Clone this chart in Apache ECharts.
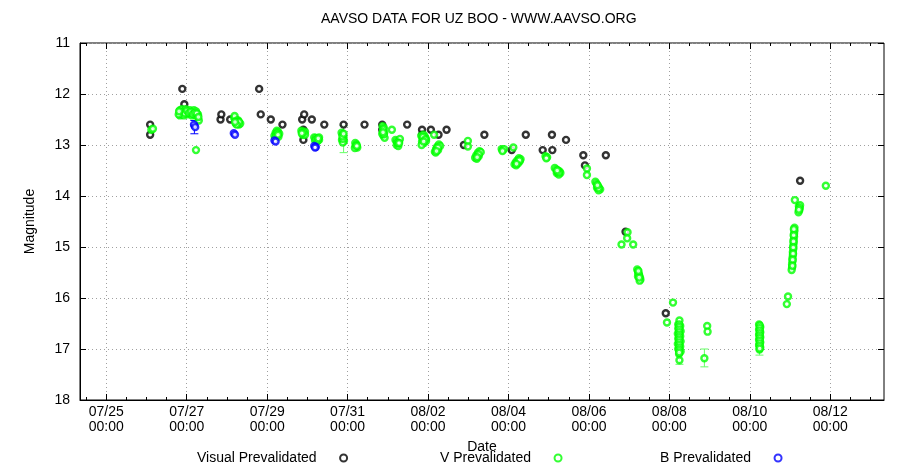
<!DOCTYPE html>
<html><head><meta charset="utf-8">
<script src="https://cdn.jsdelivr.net/npm/echarts@6/dist/echarts.min.js"></script>
<style>html,body{margin:0;padding:0;background:#fff}#c{width:900px;height:473px}</style>
</head><body><div id="c"></div>
<script>
// x values: days since 07/25 00:00
const xTickValues = [0, 2, 4, 6, 8, 10, 12, 14, 16, 18];
const xTickLabels = ['07/25\n00:00','07/27\n00:00','07/29\n00:00','07/31\n00:00','08/02\n00:00','08/04\n00:00','08/06\n00:00','08/08\n00:00','08/10\n00:00','08/12\n00:00'];

const visualX = [1.09,1.09,1.89,1.94,2.84,2.86,3.08,3.80,3.84,4.09,4.38,4.87,4.92,4.90,4.90,5.11,5.42,5.90,6.42,6.86,6.86,7.48,7.85,7.85,8.07,8.26,8.46,8.89,9.40,10.08,10.43,10.85,11.08,11.09,11.43,11.86,11.90,12.42,12.91,13.91,17.25];
const visualY = [12.6,12.8,11.9,12.2,12.5,12.4,12.5,11.9,12.4,12.5,12.6,12.5,12.4,12.7,12.9,12.5,12.6,12.6,12.6,12.6,12.7,12.6,12.7,12.8,12.7,12.8,12.7,13.0,12.8,13.1,12.8,13.1,12.8,13.1,12.9,13.2,13.4,13.2,14.7,16.3,13.7];

const vX = [1.12,1.16,
 1.83,1.83,1.88,1.88,1.93,1.93,1.98,1.98,2.03,2.03,2.08,2.08,2.13,2.13,2.18,2.18,2.23,2.23,2.28,2.30,2.23,
 1.85,1.90,1.95,2.00,2.05,2.10,2.15,2.20,2.25,1.80,1.81,2.29,
 3.18,3.21,3.24,3.27,3.30,3.33,3.22,3.28,3.19,
 3.25,3.27,3.30,3.24,3.20,
 4.18,4.21,4.24,4.27,4.30,4.25,4.20,4.28,
 4.22,4.25,4.23,4.27,
 4.85,4.88,4.91,4.94,4.88,4.94,4.90,4.86,
 5.17,5.21,5.25,5.29,5.19,5.24,5.29,5.22,5.26,5.27,
 5.85,5.88,5.90,5.86,5.91,5.88,5.88,5.87,5.90,
 6.19,6.22,6.20,6.24,6.18,6.21,6.23,
 6.87,6.90,6.88,6.91,6.89,6.92,6.86,7.10,6.89,6.90,6.88,
 7.19,7.22,7.25,7.28,7.22,7.26,7.30,7.24,7.26,7.28,
 7.83,7.86,7.89,7.92,7.95,7.85,7.90,7.95,7.84,8.15,7.88,7.91,7.87,7.93,7.89,
 8.17,8.20,8.23,8.27,8.30,8.19,8.25,8.22,8.25,8.21,
 8.99,8.99,
 9.17,9.20,9.24,9.28,9.31,9.21,9.26,9.23,9.26,9.22,
 9.83,9.86,9.89,9.85,10.12,
 10.15,10.18,10.22,10.26,10.30,10.19,10.24,10.28,10.21,10.24,10.27,10.20,
 10.92,10.96,10.94,
 11.15,11.19,11.23,11.27,11.29,11.20,11.25,11.22,11.25,11.21,
 11.95,11.95,
 12.16,12.19,12.22,12.25,12.28,12.20,12.24,12.22,12.24,12.21,
 12.96,12.95,12.81,13.10,
 13.20,13.22,13.23,13.25,13.27,13.28,13.22,13.26,13.24,13.25,13.23,
 14.09,13.94,
 14.22,14.27,14.22,14.28,14.21,14.27,14.22,14.28,14.21,14.27,14.22,14.28,14.24,14.25,14.25,
 14.245,14.245,14.245,14.245,14.245,14.245,14.245,14.245,14.245,14.245,14.245,14.245,
 14.94,14.95,14.87,
 16.23,16.26,16.23,16.26,16.23,16.26,16.23,16.26,16.23,16.26,16.24,
 16.245,16.245,16.245,16.245,16.245,16.245,16.245,16.245,16.245,16.245,
 16.95,16.92,
 17.11,17.11,17.10,17.10,17.09,17.09,17.08,17.08,17.07,17.07,17.06,17.06,17.05,17.05,17.04,
 17.095,17.09,17.085,17.08,17.075,17.065,17.06,
 17.12,
 17.22,17.24,17.23,17.21,17.25,17.23,17.22,
 17.89];
const vY = [12.70,12.68,
 12.32,12.42,12.30,12.40,12.33,12.42,12.36,12.30,12.35,12.40,12.38,12.32,12.36,12.42,12.32,12.40,12.34,12.42,12.40,12.52,13.10,
 12.36,12.35,12.38,12.33,12.37,12.35,12.39,12.37,12.38,12.40,12.34,12.45,
 12.47,12.52,12.55,12.58,12.60,12.58,12.58,12.52,12.43,
 12.52,12.55,12.55,12.60,12.55,
 12.82,12.76,12.72,12.74,12.78,12.82,12.86,12.84,
 12.79,12.77,12.83,12.80,
 12.72,12.75,12.78,12.74,12.80,12.80,12.76,12.77,
 12.85,12.86,12.88,12.90,12.91,12.93,12.85,12.89,12.91,12.87,
 12.76,12.80,12.85,12.90,12.92,12.95,12.88,12.83,12.78,
 12.96,12.99,13.03,13.05,13.06,13.01,13.02,
 12.63,12.66,12.72,12.76,12.82,12.86,12.78,12.70,12.69,12.79,12.75,
 12.90,12.93,12.96,12.92,13.00,13.02,12.88,12.95,12.97,12.96,
 12.82,12.86,12.80,12.84,12.88,12.93,12.96,12.92,13.00,12.80,12.89,12.88,12.84,12.89,12.93,
 13.13,13.08,13.03,12.99,13.02,13.15,13.10,13.06,13.05,13.12,
 12.92,13.03,
 13.25,13.20,13.15,13.12,13.14,13.27,13.22,13.21,13.18,13.24,
 13.08,13.10,13.08,13.12,13.05,
 13.38,13.34,13.30,13.26,13.28,13.40,13.36,13.32,13.35,13.32,13.30,13.37,
 13.22,13.24,13.26,
 13.45,13.48,13.50,13.52,13.55,13.55,13.58,13.53,13.54,13.50,
 13.46,13.59,
 13.72,13.76,13.80,13.84,13.87,13.84,13.89,13.83,13.85,13.79,
 14.71,14.83,14.95,14.95,
 15.44,15.48,15.52,15.56,15.60,15.64,15.58,15.66,15.54,15.60,15.47,
 16.09,16.48,
 16.52,16.55,16.60,16.65,16.70,16.75,16.80,16.85,16.90,16.95,17.00,17.05,17.10,16.44,17.22,
 16.52,16.57,16.62,16.67,16.72,16.77,16.82,16.87,16.92,16.97,17.02,17.07,
 16.55,16.66,17.18,
 16.52,16.57,16.62,16.67,16.72,16.77,16.82,16.87,16.92,16.97,17.01,
 16.54,16.59,16.64,16.69,16.74,16.79,16.84,16.89,16.94,16.99,
 15.97,16.12,
 14.62,14.68,14.74,14.80,14.86,14.92,14.98,15.04,15.10,15.16,15.22,15.28,15.34,15.40,15.45,
 14.65,14.77,14.89,15.01,15.13,15.25,15.37,
 14.08,
 14.20,14.24,14.28,14.32,14.18,14.23,14.27,
 13.80];

const bX = [2.19,2.18,2.21,3.17,3.20,4.18,4.21,5.17,5.21,5.19];
const bY = [12.62,12.60,12.65,12.77,12.80,12.91,12.93,13.02,13.04,13.05];

// error bars: x, upper and lower magnitude
const errX = [5.90, 14.25, 14.87, 16.24];
const errLo = [12.62, 17.05, 17.0, 16.95];
const errHi = [13.15, 17.30, 17.35, 17.12];
const errBX = [2.19];
const errBLo = [12.52];
const errBHi = [12.78];

const zip = (xs, ys) => xs.map((x, i) => [x, ys[i]]);
const FONT = '"Liberation Sans", Arial, sans-serif';
const FS = 14;
const XMIN = -0.654, XMAX = 19.336;
const minorTicks = [];
for (let v = -0.5; v <= 19.01; v += 0.5) minorTicks.push(v);

function ring(color) {
  return { color: '#ffffff', borderColor: color, borderWidth: 2.4 };
}
function errSeries(xs, lo, hi, color) {
  return {
    type: 'custom', xAxisIndex: 0, yAxisIndex: 0, silent: true, z: 1,
    data: xs.map((x, i) => [x, lo[i], hi[i]]),
    renderItem: function (params, api) {
      const a = api.coord([api.value(0), api.value(1)]);
      const b = api.coord([api.value(0), api.value(2)]);
      const s = { stroke: color, lineWidth: 1 };
      return { type: 'group', children: [
        { type: 'line', shape: { x1: a[0], y1: a[1], x2: b[0], y2: b[1] }, style: s },
        { type: 'line', shape: { x1: a[0]-4, y1: a[1], x2: a[0]+4, y2: a[1] }, style: s },
        { type: 'line', shape: { x1: b[0]-4, y1: b[1], x2: b[0]+4, y2: b[1] }, style: s }
      ]};
    }
  };
}

const chart = echarts.init(document.getElementById('c'), null, { renderer: 'canvas' });
const legendBase = {
  orient: 'horizontal', align: 'right', top: 451, itemWidth: 44, itemHeight: 7, padding: 0,
  textStyle: { fontFamily: FONT, fontSize: FS, color: '#000' }, selectedMode: false
};
chart.setOption({
  animation: false,
  backgroundColor: '#ffffff',
  title: {
    text: 'AAVSO DATA FOR UZ BOO - WWW.AAVSO.ORG', left: 321, top: 12, padding: 0,
    textStyle: { fontFamily: FONT, fontSize: FS, fontWeight: 'normal', color: '#000' }
  },
  legend: [
    Object.assign({}, legendBase, { left: 197, data: ['Visual Prevalidated'] }),
    Object.assign({}, legendBase, { left: 440, data: ['V Prevalidated'] }),
    Object.assign({}, legendBase, { left: 660, data: ['B Prevalidated'] })
  ],
  grid: { left: 80, right: 16, top: 43, bottom: 73, show: true, borderColor: '#000', borderWidth: 1, backgroundColor: 'transparent' },
  xAxis: [
    { type: 'value', position: 'bottom', min: XMIN, max: XMAX,
      name: 'Date', nameLocation: 'middle', nameGap: 23,
      nameTextStyle: { fontFamily: FONT, fontSize: FS, color: '#000' },
      axisLine: { show: true, onZero: false, lineStyle: { color: '#000' } },
      axisTick: { show: true, inside: true, length: 6, customValues: xTickValues, lineStyle: { color: '#000' } },
      axisLabel: { customValues: xTickValues, fontFamily: FONT, fontSize: FS, color: '#000', margin: 5, lineHeight: 15,
        formatter: function (v) { return xTickLabels[xTickValues.indexOf(Math.round(v))] || ''; } },
      splitLine: { show: true, lineStyle: { color: '#a0a0a0', type: [1, 3], width: 1 } }
    },
    { type: 'value', position: 'bottom', min: XMIN, max: XMAX, show: true,
      axisLine: { show: false, onZero: false }, axisLabel: { show: false }, splitLine: { show: false },
      axisTick: { show: true, inside: true, length: 3, customValues: minorTicks, lineStyle: { color: '#000' } } },
    { type: 'value', position: 'top', min: XMIN, max: XMAX, show: true,
      axisLine: { show: false, onZero: false }, axisLabel: { show: false }, splitLine: { show: false },
      axisTick: { show: true, inside: true, length: 6, customValues: xTickValues, lineStyle: { color: '#000' } } },
    { type: 'value', position: 'top', min: XMIN, max: XMAX, show: true,
      axisLine: { show: false, onZero: false }, axisLabel: { show: false }, splitLine: { show: false },
      axisTick: { show: true, inside: true, length: 3, customValues: minorTicks, lineStyle: { color: '#000' } } }
  ],
  yAxis: [
    { type: 'value', inverse: true, min: 11, max: 18, interval: 1,
      name: 'Magnitude', nameLocation: 'middle', nameGap: 43, nameRotate: 90,
      nameTextStyle: { fontFamily: FONT, fontSize: FS, color: '#000' },
      axisLine: { show: true, onZero: false, lineStyle: { color: '#000' } },
      axisTick: { show: true, inside: true, length: 6, lineStyle: { color: '#000' } },
      axisLabel: { fontFamily: FONT, fontSize: FS, color: '#000', margin: 10 },
      splitLine: { show: true, lineStyle: { color: '#a0a0a0', type: [1, 3], width: 1 } }
    },
    { type: 'value', inverse: true, min: 11, max: 18, interval: 1, position: 'right',
      axisLine: { show: false, onZero: false }, axisLabel: { show: false }, splitLine: { show: false },
      axisTick: { show: true, inside: true, length: 6, lineStyle: { color: '#000' } } }
  ],
  series: [
    errSeries(errX, errLo, errHi, '#66ff66'),
    errSeries(errBX, errBLo, errBHi, '#0000ff'),
    { name: 'Visual Prevalidated', type: 'scatter', symbol: 'circle', symbolSize: 6, z: 3,
      itemStyle: ring('#000000'), data: zip(visualX, visualY) },
    { name: 'V Prevalidated', type: 'scatter', symbol: 'circle', symbolSize: 6, z: 4,
      itemStyle: ring('#00ff00'), data: zip(vX, vY) },
    { name: 'B Prevalidated', type: 'scatter', symbol: 'circle', symbolSize: 6, z: 5,
      itemStyle: ring('#0000ff'), data: zip(bX, bY) }
  ]
});
</script></body></html>
